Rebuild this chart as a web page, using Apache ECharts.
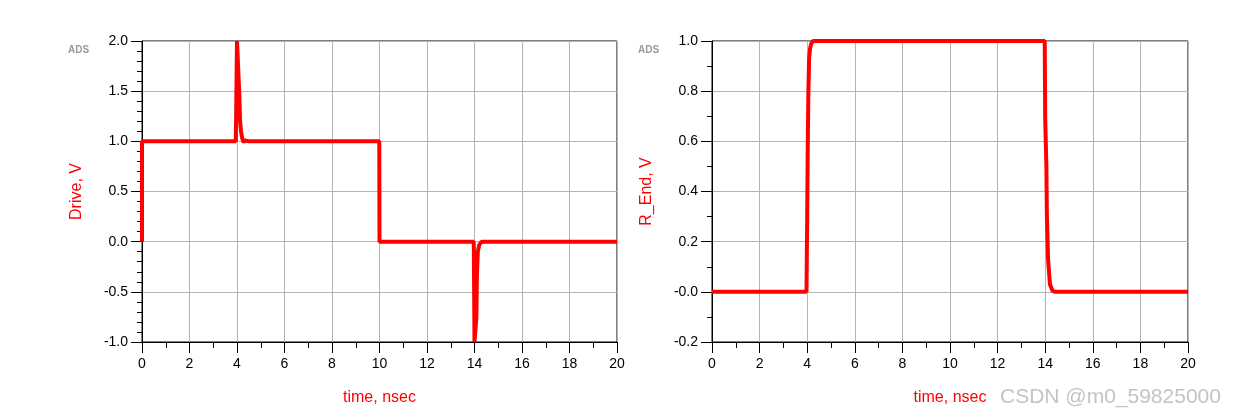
<!DOCTYPE html>
<html>
<head>
<meta charset="utf-8">
<script src="https://cdn.jsdelivr.net/npm/echarts@6/dist/echarts.min.js"></script>
<style>
html,body{margin:0;padding:0;background:#fff;}
#chart{width:1248px;height:419px;}
</style>
</head>
<body>
<div id="chart"></div>
<script>
// Left panel: Drive (V) vs time (nsec)
const driveTime = [0, 0, 3.95, 4.0, 4.08, 4.1, 4.13, 4.17, 4.22, 4.28, 4.35, 4.5, 9.99, 10.0, 13.97, 14.0, 14.06, 14.08, 14.1, 14.14, 14.2, 14.3, 20];
const driveVolt = [0, 1, 1, 2.0, 2.0, 1.45, 1.2, 1.1, 1.03, 0.99, 1.01, 1.0, 1.0, 0, 0, -1.0, -1.0, -0.75, -0.35, -0.1, -0.03, 0, 0];
// Right panel: R_End (V) vs time (nsec)
const rEndTime = [0, 3.97, 4.0, 4.02, 4.05, 4.08, 4.12, 4.17, 4.25, 13.98, 14.0, 14.05, 14.07, 14.12, 14.2, 14.3, 14.4, 20];
const rEndVolt = [0, 0, 0.3, 0.55, 0.8, 0.93, 0.97, 0.99, 1.0, 1.0, 0.69, 0.5, 0.31, 0.13, 0.03, 0.005, 0, 0];

const xTicks = ['0','2','4','6','8','10','12','14','16','18','20'];
const yTicksLeft = ['-1.0','-0.5','0.0','0.5','1.0','1.5','2.0'];
const yTicksRight = ['-0.2','-0.0','0.2','0.4','0.6','0.8','1.0'];

const chart = echarts.init(document.getElementById('chart'), null, {renderer: 'canvas'});
const FONT = 'Liberation Sans, Arial, sans-serif';
const gridLine = {show: true, lineStyle: {color: '#b4b4b4', width: 1}};

function xAxisDef(gi) {
  return {
    type: 'value', gridIndex: gi, min: 0, max: 20, interval: 2,
    axisLine: {show: true, onZero: false, lineStyle: {color: '#000', width: 1}},
    axisTick: {show: true, inside: false, length: 11, lineStyle: {color: '#000'}},
    minorTick: {show: true, splitNumber: 2, length: 6, lineStyle: {color: '#000'}},
    splitLine: gridLine,
    axisLabel: {color: '#000', fontSize: 14, fontFamily: FONT, margin: 15,
      formatter: v => xTicks[Math.round(v / 2)]},
    name: 'time, nsec', nameLocation: 'middle', nameGap: 48,
    nameTextStyle: {color: '#ff0000', fontSize: 16, fontFamily: FONT}
  };
}
function yAxisDef(gi, min, max, interval, minorSplit, labels, name) {
  return {
    type: 'value', gridIndex: gi, min: min, max: max, interval: interval,
    axisLine: {show: true, onZero: false, lineStyle: {color: '#000', width: 1}},
    axisTick: {show: true, inside: false, length: 11, lineStyle: {color: '#000'}},
    minorTick: {show: true, splitNumber: minorSplit, length: 5, lineStyle: {color: '#000'}},
    splitLine: gridLine,
    axisLabel: {color: '#000', fontSize: 14, fontFamily: FONT, margin: 14,
      formatter: v => labels[Math.round((v - min) / interval)]},
    name: name, nameLocation: 'middle', nameGap: 57, nameRotate: 90,
    nameTextStyle: {color: '#ff0000', fontSize: 16, fontFamily: FONT}
  };
}

chart.setOption({
  animation: false,
  backgroundColor: '#fff',
  grid: [
    {left: 142, right: 631, top: 41, bottom: 77, show: true, borderColor: '#000', borderWidth: 1, backgroundColor: 'transparent'},
    {left: 712, right: 60, top: 41, bottom: 77, show: true, borderColor: '#000', borderWidth: 1, backgroundColor: 'transparent'}
  ],
  xAxis: [xAxisDef(0), xAxisDef(1)],
  yAxis: [
    yAxisDef(0, -1.0, 2.0, 0.5, 5, yTicksLeft, 'Drive, V'),
    yAxisDef(1, -0.2, 1.0, 0.2, 2, yTicksRight, 'R_End, V')
  ],
  series: [
    {type: 'line', xAxisIndex: 0, yAxisIndex: 0, showSymbol: false, symbol: 'none',
      data: driveTime.map((t, i) => [t, driveVolt[i]]),
      lineStyle: {color: '#ff0000', width: 4}, z: 5},
    {type: 'line', xAxisIndex: 1, yAxisIndex: 1, showSymbol: false, symbol: 'none',
      data: rEndTime.map((t, i) => [t, rEndVolt[i]]),
      lineStyle: {color: '#ff0000', width: 4}, z: 5}
  ],
  graphic: [
    {type: 'text', left: 68, top: 45, style: {text: 'ADS', fill: '#9a9a9a', font: 'bold 10px ' + FONT}},
    {type: 'text', left: 638, top: 45, style: {text: 'ADS', fill: '#9a9a9a', font: 'bold 10px ' + FONT}},
    {type: 'text', left: 1000, top: 387, style: {text: 'CSDN @m0_59825000', fill: '#c4c4c4', font: '21px ' + FONT}}
  ]
});
</script>
</body>
</html>
